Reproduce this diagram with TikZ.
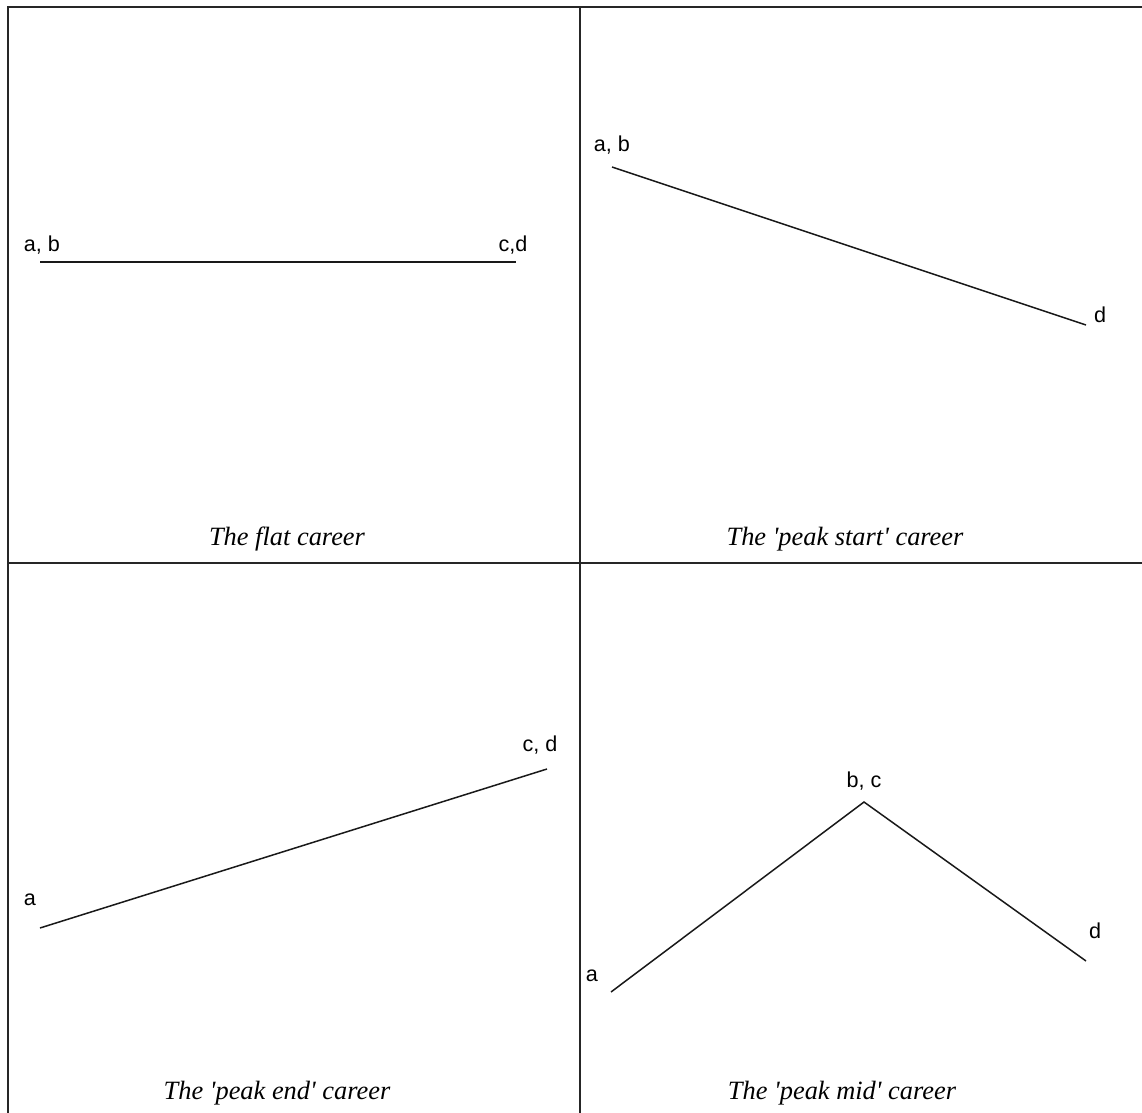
\documentclass[tikz,border=0pt]{standalone}
\usepackage{fontspec}
\setmainfont{Liberation Serif}
\setsansfont{Liberation Sans}
\newfontfamily\capfont{Liberation Serif}
\begin{document}
\begin{tikzpicture}[x=0.5pt,y=-0.5pt,
  frame/.style={line width=1pt,black!85},
  curve/.style={line width=0.75pt,black!90},
  lbl/.style={font=\sffamily\fontsize{10.8}{12}\selectfont,inner sep=0pt},
  captxt/.style={font=\capfont\itshape\fontsize{13.2}{15}\selectfont,inner sep=0pt}]
\useasboundingbox (0,0) rectangle (1142,1113);
% frame
\coordinate (tl) at (8,7);
\coordinate (tr) at (1143,7);
\coordinate (bl) at (8,1114);
\coordinate (vt) at (580,7);
\coordinate (vb) at (580,1114);
\coordinate (hl) at (8,563);
\coordinate (hr) at (1143,563);
\draw[frame] (bl) -- (tl) -- (tr);
\draw[frame] (vt) -- (vb);
\draw[frame] (hl) -- (hr);
% panel 1
\coordinate (p1a) at (40,262);
\coordinate (p1d) at (516,262);
\draw[curve] (p1a) -- (p1d);
\node[lbl] (l1ab) at (42,245) {a, b};
\node[lbl] (l1cd) at (513,245) {c,d};
\node[captxt] (c1) at (287,539) {The flat career};
% panel 2
\coordinate (p2a) at (612,167);
\coordinate (p2d) at (1086,325);
\draw[curve] (p2a) -- (p2d);
\node[lbl] (l2ab) at (612,145) {a, b};
\node[lbl] (l2d) at (1100,315) {d};
\node[captxt] (c2) at (845,539) {The 'peak start' career};
% panel 3
\coordinate (p3a) at (40,928);
\coordinate (p3d) at (547,769);
\draw[curve] (p3a) -- (p3d);
\node[lbl] (l3a) at (30,900) {a};
\node[lbl] (l3cd) at (540,745) {c, d};
\node[captxt] (c3) at (277,1093) {The 'peak end' career};
% panel 4
\coordinate (p4a) at (611,992);
\coordinate (p4b) at (864,802);
\coordinate (p4d) at (1086,961);
\draw[curve] (p4a) -- (p4b) -- (p4d);
\node[lbl] (l4a) at (592,976) {a};
\node[lbl] (l4bc) at (864,781) {b, c};
\node[lbl] (l4d) at (1095,931) {d};
\node[captxt] (c4) at (842,1093) {The 'peak mid' career};
\end{tikzpicture}
\end{document}
